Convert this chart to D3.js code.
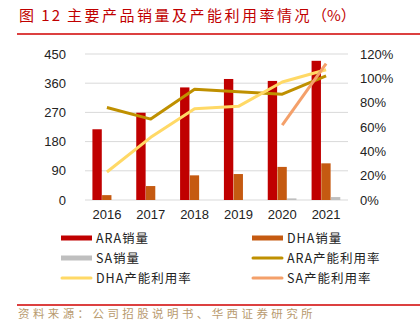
<!DOCTYPE html>
<html>
<head>
<meta charset="utf-8">
<script src="https://cdn.jsdelivr.net/npm/d3@7"></script>
<style>
  body { margin: 0; background: #fff; }
  svg { font-family: "Liberation Sans", Arial, sans-serif; }
  .cjk { font-family: "Noto Sans CJK SC", sans-serif; }
</style>
</head>
<body>
<div id="chart"></div>
<script>
// chart data
const years = ['2016', '2017', '2018', '2019', '2020', '2021'];
const araSales = [218, 269, 347, 373, 367, 429];
const dhaSales = [15, 43, 76, 80, 102, 113];
const saSales = [0, 0, 0, 0, 5, 9];
const araRate = [0.76, 0.665, 0.91, 0.89, 0.87, 1.02];
const dhaRate = [0.23, 0.515, 0.75, 0.77, 0.97, 1.07];
const saRate = [null, null, null, null, 0.615, 1.12];
const leftTicks = [0, 90, 180, 270, 360, 450];
const rightTicks = [0, 0.2, 0.4, 0.6, 0.8, 1.0, 1.2];

const colors = {
    ara: '#C00000', dha: '#C55A11', sa: '#BFBFBF',
    araRate: '#BF9000', dhaRate: '#FFD966', saRate: '#F4A06A'
};

let width = 420, height = 329;
let svg = d3.select('#chart').append('svg')
    .attr('width', width)
    .attr('height', height);

// title + rules
let title = svg.append('text')
    .attr('class', 'cjk')
    .attr('y', 21)
    .attr('fill', '#C00000')
    .attr('font-size', 15);
title.append('tspan').attr('x', 19).attr('letter-spacing', 2).text('图 12');
title.append('tspan').attr('x', 67).attr('letter-spacing', 2.5).text('主要产品销量及产能利用率情况');
title.append('tspan').attr('letter-spacing', 0).text('（%）');

svg.append('line')
    .attr('x1', 17).attr('x2', 420).attr('y1', 34).attr('y2', 34)
    .attr('stroke', '#D00000').attr('stroke-width', 1.5);
svg.append('line')
    .attr('x1', 17).attr('x2', 420).attr('y1', 305).attr('y2', 305)
    .attr('stroke', '#D00000').attr('stroke-width', 1.5);
svg.append('text')
    .attr('class', 'cjk')
    .attr('x', 18).attr('y', 318)
    .attr('fill', '#B89A6E')
    .attr('font-size', 11.5)
    .attr('letter-spacing', 3.4)
    .text('资料来源：公司招股说明书、华西证券研究所');

// scales
let x = d3.scaleBand().domain(years).range([85, 348]);
let yL = d3.scaleLinear().domain([0, 450]).range([200, 54]);
let yR = d3.scaleLinear().domain([0, 1.2]).range([200, 54]);
let sub = d3.scaleBand().domain(['ara', 'dha', 'sa']).range([0, 29]);
let groupOffset = (x.bandwidth() - 29) / 2;

// gridlines
svg.append('g').selectAll('line')
    .data(leftTicks)
    .enter().append('line')
    .attr('x1', 85).attr('x2', 348)
    .attr('y1', d => yL(d)).attr('y2', d => yL(d))
    .attr('stroke', '#D9D9D9').attr('stroke-width', 1);

// axes
let leftAxis = svg.append('g')
    .attr('transform', 'translate(85,0)')
    .call(d3.axisLeft(yL).tickValues(leftTicks).tickSize(0).tickPadding(19));
leftAxis.select('.domain').remove();

let rightAxis = svg.append('g')
    .attr('transform', 'translate(348,0)')
    .call(d3.axisRight(yR).tickValues(rightTicks).tickSize(0).tickPadding(12).tickFormat(d3.format('.0%')));
rightAxis.select('.domain').remove();

let bottomAxis = svg.append('g')
    .attr('transform', 'translate(0,200)')
    .call(d3.axisBottom(x).tickSize(0).tickPadding(10));
bottomAxis.select('.domain').remove();

svg.selectAll('.tick text')
    .attr('font-family', '"Liberation Sans", Arial, sans-serif')
    .attr('font-size', 13)
    .attr('fill', '#222');

// bars
let series = [
    {key: 'ara', values: araSales, color: colors.ara},
    {key: 'dha', values: dhaSales, color: colors.dha},
    {key: 'sa', values: saSales, color: colors.sa}
];
series.forEach(s => {
    svg.append('g').selectAll('rect')
        .data(years)
        .enter().append('rect')
        .attr('x', (d, i) => x(d) + groupOffset + sub(s.key))
        .attr('width', sub.bandwidth() - 0.3)
        .attr('y', (d, i) => yL(s.values[i]))
        .attr('height', (d, i) => yL(0) - yL(s.values[i]))
        .attr('fill', s.color);
});

// lines
let line = d3.line()
    .defined(d => d.v !== null)
    .x(d => x(d.year) + x.bandwidth() / 2)
    .y(d => yR(d.v));

let lines = [
    {values: araRate, color: colors.araRate},
    {values: dhaRate, color: colors.dhaRate},
    {values: saRate, color: colors.saRate}
];
lines.forEach(l => {
    svg.append('path')
        .datum(years.map((y, i) => ({year: y, v: l.values[i]})))
        .attr('d', line)
        .attr('fill', 'none')
        .attr('stroke', l.color)
        .attr('stroke-width', 3)
        .attr('stroke-linejoin', 'round');
});

// legend
let legendItems = [
    {label: 'ARA销量', color: colors.ara, type: 'bar', col: 0, row: 0},
    {label: 'DHA销量', color: colors.dha, type: 'bar', col: 1, row: 0},
    {label: 'SA销量', color: colors.sa, type: 'bar', col: 0, row: 1},
    {label: 'ARA产能利用率', color: colors.araRate, type: 'line', col: 1, row: 1},
    {label: 'DHA产能利用率', color: colors.dhaRate, type: 'line', col: 0, row: 2},
    {label: 'SA产能利用率', color: colors.saRate, type: 'line', col: 1, row: 2}
];
let legend = svg.append('g');
legendItems.forEach(item => {
    let lx = item.col === 0 ? 61 : 252;
    let ly = 238 + item.row * 20;
    if (item.type === 'bar') {
        legend.append('rect')
            .attr('x', lx).attr('y', ly - 2.5)
            .attr('width', 31).attr('height', 5)
            .attr('fill', item.color);
    } else {
        legend.append('line')
            .attr('x1', lx + 1).attr('x2', lx + 30)
            .attr('y1', ly).attr('y2', ly)
            .attr('stroke', item.color).attr('stroke-width', 3)
            .attr('stroke-linecap', 'round');
    }
    legend.append('text')
        .attr('class', 'cjk')
        .attr('x', lx + 35).attr('y', ly + 4.5)
        .attr('font-size', 12.5)
        .attr('fill', '#222')
        .attr('letter-spacing', 1)
        .text(item.label);
});
</script>
</body>
</html>
